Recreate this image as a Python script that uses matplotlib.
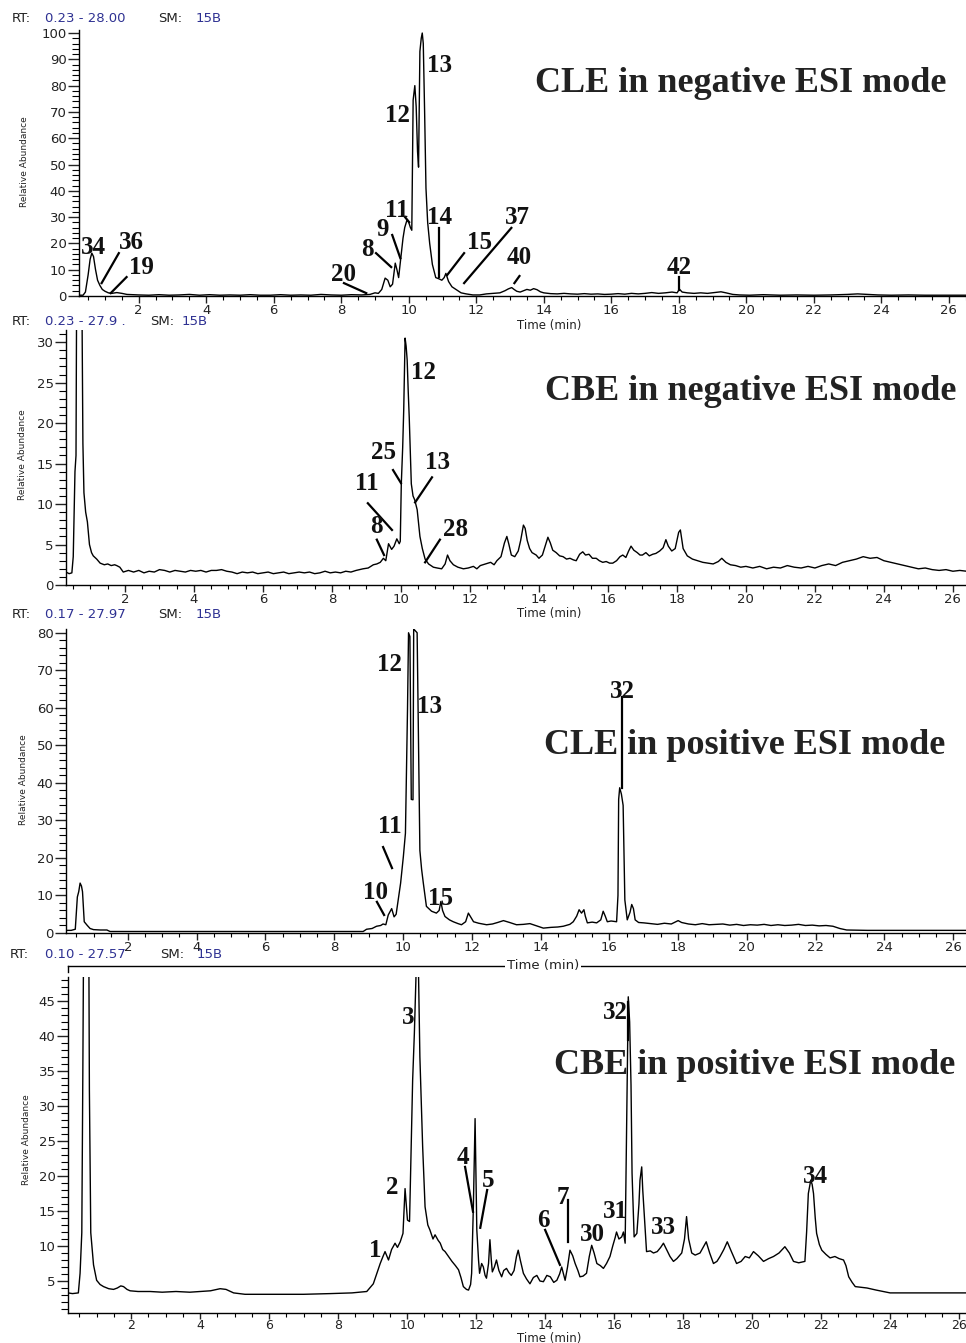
import matplotlib
matplotlib.use("Agg")
import matplotlib.pyplot as plt
from matplotlib.lines import Line2D
from matplotlib.ticker import MultipleLocator

W, H = 966, 1343
BLUE = "#2e3192"
SERIF = "Liberation Serif"

# ---- chromatogram traces (time in min, relative abundance) ----
cle_neg = [(0.23, 0.3), (0.35, 0.3), (0.42, 1.5), (0.50, 8), (0.56, 14), (0.61, 16.3), (0.66, 15),
           (0.72, 10), (0.78, 6), (0.85, 4), (0.92, 2.5), (1.00, 1.8), (1.10, 1.2), (1.20, 1.0),
           (1.35, 1.3), (1.50, 1.0), (1.65, 0.6), (1.80, 0.5), (2.0, 0.4), (2.3, 0.3), (2.6, 0.5),
           (2.9, 0.3), (3.2, 0.4), (3.5, 0.6), (3.8, 0.3), (4.1, 0.5), (4.4, 0.3), (4.7, 0.4),
           (5.0, 0.3), (5.3, 0.5), (5.6, 0.3), (5.9, 0.3), (6.2, 0.5), (6.5, 0.3), (6.8, 0.4),
           (7.1, 0.3), (7.4, 0.6), (7.7, 0.4), (8.0, 0.3), (8.3, 0.5), (8.6, 0.4), (8.85, 0.6),
           (9.0, 1.2), (9.1, 1.0), (9.2, 2.5), (9.3, 6.8), (9.38, 6), (9.45, 3.5), (9.52, 4.5),
           (9.6, 12.5), (9.65, 10), (9.7, 7), (9.77, 15), (9.83, 22), (9.88, 26), (9.95, 29),
           (10.0, 28), (10.05, 26), (10.09, 25), (10.13, 74.5), (10.18, 80), (10.22, 72),
           (10.26, 55), (10.29, 49), (10.33, 93), (10.37, 98), (10.40, 100), (10.43, 96),
           (10.47, 70), (10.51, 41), (10.56, 28), (10.62, 20), (10.7, 12), (10.8, 7), (10.9, 6.5),
           (10.98, 6), (11.05, 7), (11.1, 8.6), (11.18, 5.5), (11.28, 3.5), (11.4, 2.5),
           (11.55, 1.2), (11.7, 0.8), (11.9, 0.4), (12.1, 0.4), (12.3, 0.8), (12.5, 1.0),
           (12.7, 1.2), (12.85, 2.0), (12.95, 2.7), (13.05, 3.2), (13.12, 2.5), (13.2, 1.8),
           (13.3, 1.5), (13.4, 2.0), (13.5, 2.5), (13.6, 2.2), (13.7, 2.8), (13.8, 2.4),
           (13.9, 1.6), (14.0, 1.2), (14.2, 0.9), (14.4, 0.8), (14.6, 1.0), (14.8, 0.8),
           (15.0, 0.7), (15.2, 0.9), (15.4, 0.7), (15.6, 0.8), (15.8, 0.6), (16.0, 0.7),
           (16.2, 0.9), (16.4, 0.7), (16.6, 1.0), (16.8, 0.8), (17.0, 1.0), (17.2, 1.3),
           (17.4, 1.0), (17.6, 1.2), (17.8, 1.5), (17.95, 1.2), (18.02, 2.6), (18.1, 1.5),
           (18.25, 1.2), (18.45, 1.0), (18.65, 1.2), (18.85, 1.0), (19.05, 1.3), (19.25, 1.6),
           (19.4, 1.2), (19.6, 0.6), (19.8, 0.4), (20.1, 0.3), (20.5, 0.5), (21.0, 0.3),
           (21.5, 0.4), (22.0, 0.3), (22.5, 0.4), (23.0, 0.6), (23.3, 0.8), (23.6, 0.6),
           (23.9, 0.4), (24.3, 0.3), (24.8, 0.4), (25.3, 0.3), (25.8, 0.3), (26.3, 0.3), (26.6, 0.3)]

cbe_neg = [(0.29, 1.6), (0.38, 1.4), (0.46, 1.5), (0.50, 3.5), (0.55, 14), (0.58, 16), (0.62, 60),
           (0.72, 60), (0.76, 30), (0.78, 17.5), (0.81, 11.4), (0.86, 9), (0.91, 7.8), (0.97, 5),
           (1.03, 4), (1.08, 3.6), (1.18, 3.2), (1.28, 2.7), (1.4, 2.5), (1.5, 2.6), (1.6, 2.4),
           (1.7, 2.5), (1.76, 2.4), (1.85, 2.2), (1.95, 1.6), (2.1, 1.8), (2.25, 1.6), (2.4, 1.8),
           (2.55, 1.5), (2.7, 1.7), (2.85, 1.6), (3.0, 1.9), (3.15, 1.8), (3.3, 1.6), (3.45, 1.8),
           (3.6, 1.7), (3.75, 1.6), (3.9, 1.8), (4.05, 1.7), (4.2, 1.8), (4.35, 1.6), (4.5, 1.8),
           (4.65, 1.8), (4.8, 1.9), (4.95, 1.7), (5.1, 1.6), (5.25, 1.4), (5.4, 1.6), (5.55, 1.5),
           (5.7, 1.6), (5.85, 1.4), (6.0, 1.5), (6.15, 1.6), (6.3, 1.4), (6.45, 1.5), (6.6, 1.6),
           (6.75, 1.4), (6.9, 1.5), (7.05, 1.6), (7.2, 1.5), (7.35, 1.6), (7.5, 1.4), (7.65, 1.5),
           (7.8, 1.7), (7.95, 1.5), (8.1, 1.6), (8.25, 1.5), (8.4, 1.7), (8.55, 1.6), (8.7, 1.8),
           (8.9, 2.0), (9.05, 2.1), (9.2, 2.5), (9.3, 2.6), (9.4, 2.8), (9.49, 3.3), (9.56, 3.0),
           (9.64, 5.1), (9.73, 4.4), (9.8, 4.8), (9.88, 5.7), (9.95, 5.1), (9.98, 5.4),
           (10.01, 12.5), (10.05, 17), (10.08, 21.6), (10.12, 30.5), (10.15, 29.5), (10.18, 27.8),
           (10.21, 24), (10.24, 20.7), (10.3, 12.5), (10.35, 11), (10.4, 10.5), (10.47, 9.3),
           (10.55, 6), (10.62, 4.5), (10.7, 3.2), (10.8, 2.6), (10.94, 2.2), (11.05, 2.1),
           (11.18, 2.0), (11.28, 2.6), (11.35, 3.7), (11.42, 3.0), (11.52, 2.5), (11.65, 2.2),
           (11.81, 2.0), (11.95, 2.1), (12.1, 2.3), (12.2, 2.0), (12.3, 2.4), (12.45, 2.6),
           (12.6, 2.8), (12.7, 2.5), (12.78, 3.0), (12.9, 3.5), (13.0, 5.2), (13.07, 6.0),
           (13.13, 5), (13.2, 3.7), (13.3, 3.5), (13.4, 4.2), (13.47, 5.5), (13.55, 7.4),
           (13.6, 7), (13.66, 5.5), (13.73, 4.5), (13.8, 4.0), (13.92, 3.7), (14.0, 3.3),
           (14.1, 3.7), (14.18, 4.8), (14.26, 5.9), (14.33, 5.2), (14.4, 4.3), (14.5, 4.0),
           (14.6, 3.6), (14.7, 3.5), (14.8, 3.2), (14.9, 3.3), (15.0, 3.1), (15.08, 3.0),
           (15.18, 3.8), (15.27, 4.1), (15.35, 3.7), (15.45, 3.8), (15.55, 3.3), (15.66, 3.3),
           (15.75, 3.0), (15.85, 2.8), (15.95, 2.9), (16.05, 2.7), (16.14, 2.7), (16.25, 3.0),
           (16.35, 3.5), (16.43, 3.7), (16.52, 3.4), (16.6, 4.2), (16.67, 4.8), (16.75, 4.3),
           (16.85, 4.0), (16.93, 3.7), (17.0, 3.7), (17.1, 4.0), (17.2, 3.6), (17.3, 3.8),
           (17.39, 3.9), (17.5, 4.2), (17.6, 4.6), (17.68, 5.6), (17.75, 4.8), (17.85, 4.2),
           (17.95, 4.5), (18.05, 6.5), (18.1, 6.8), (18.18, 4.5), (18.3, 3.6), (18.45, 3.2),
           (18.6, 3.0), (18.75, 2.8), (18.9, 2.7), (19.05, 2.6), (19.2, 2.9), (19.3, 3.3),
           (19.42, 2.8), (19.55, 2.5), (19.7, 2.4), (19.85, 2.2), (20.0, 2.3), (20.2, 2.1),
           (20.4, 2.3), (20.6, 2.0), (20.8, 2.2), (21.0, 2.1), (21.2, 2.4), (21.4, 2.2),
           (21.6, 2.1), (21.8, 2.3), (22.0, 2.1), (22.2, 2.4), (22.4, 2.6), (22.6, 2.4),
           (22.8, 2.8), (23.0, 3.0), (23.2, 3.2), (23.4, 3.5), (23.6, 3.3), (23.8, 3.4),
           (24.0, 3.0), (24.2, 2.8), (24.4, 2.6), (24.6, 2.4), (24.8, 2.2), (25.0, 2.0),
           (25.2, 2.1), (25.4, 1.9), (25.6, 1.8), (25.8, 1.9), (26.0, 1.7), (26.2, 1.8), (26.4, 1.7)]

cle_pos = [(0.2, 0.7), (0.35, 0.7), (0.47, 1.0), (0.53, 9.6), (0.57, 11), (0.61, 13.3), (0.65, 12.5),
           (0.68, 11), (0.73, 3), (0.82, 2), (0.9, 1.2), (1.0, 0.9), (1.2, 0.8), (1.39, 0.8),
           (1.48, 0.4), (2, 0.4), (3, 0.4), (4, 0.4), (5, 0.4), (6, 0.4), (7, 0.4), (8, 0.4),
           (8.84, 0.4), (8.94, 1.0), (9.1, 1.2), (9.23, 1.8), (9.35, 2.0), (9.42, 2.4), (9.5, 2.2),
           (9.57, 4.8), (9.67, 6.5), (9.74, 4.3), (9.8, 5.0), (9.86, 8.8), (9.93, 13.3),
           (10.01, 20.4), (10.07, 26.6), (10.13, 59.5), (10.16, 80), (10.2, 79), (10.24, 35.6),
           (10.29, 35.5), (10.31, 81), (10.41, 80), (10.45, 51.5), (10.49, 22), (10.54, 17),
           (10.59, 13.3), (10.68, 7.1), (10.83, 5.8), (10.97, 5.3), (11.05, 6.0), (11.1, 8.4),
           (11.15, 6), (11.22, 4.4), (11.35, 3.5), (11.46, 3.0), (11.6, 2.5), (11.7, 2.2),
           (11.82, 3.0), (11.9, 5.3), (11.97, 4.2), (12.05, 3.0), (12.2, 2.6), (12.43, 2.2),
           (12.6, 2.4), (12.75, 2.8), (12.92, 3.3), (13.1, 2.8), (13.3, 2.2), (13.5, 2.3),
           (13.69, 2.5), (13.85, 2.0), (14.08, 1.3), (14.3, 1.5), (14.5, 1.6), (14.66, 1.8),
           (14.85, 2.3), (14.95, 3.0), (15.05, 4.5), (15.12, 6.2), (15.19, 5.3), (15.26, 6.2),
           (15.3, 4.5), (15.36, 2.7), (15.5, 2.9), (15.63, 2.7), (15.75, 3.5), (15.82, 5.8),
           (15.88, 4.5), (15.94, 3.0), (16.05, 3.2), (16.21, 3.0), (16.25, 10), (16.27, 35.6),
           (16.3, 38.7), (16.35, 37), (16.4, 34), (16.45, 8.8), (16.52, 3.5), (16.6, 5.5),
           (16.65, 7.6), (16.7, 6.5), (16.75, 3.5), (16.85, 2.8), (17.0, 2.7), (17.2, 2.5),
           (17.4, 2.3), (17.6, 2.6), (17.8, 2.4), (18.0, 3.3), (18.1, 2.8), (18.3, 2.4),
           (18.5, 2.2), (18.7, 2.5), (18.9, 2.2), (19.1, 2.3), (19.3, 2.4), (19.5, 2.1),
           (19.7, 2.3), (19.9, 2.0), (20.1, 2.2), (20.3, 2.1), (20.5, 2.3), (20.7, 2.0),
           (20.9, 2.2), (21.1, 2.0), (21.3, 2.1), (21.5, 2.3), (21.7, 2.0), (21.9, 2.1),
           (22.1, 1.9), (22.3, 2.0), (22.5, 1.8), (22.7, 1.2), (22.9, 0.8), (23.5, 0.7),
           (24.5, 0.7), (25.5, 0.7), (26.4, 0.7)]

cbe_pos = [(0.17, 3.3), (0.3, 3.2), (0.47, 3.3), (0.52, 6.1), (0.57, 11.9), (0.6, 34.7), (0.64, 70),
           (0.76, 70), (0.79, 32.3), (0.83, 11.9), (0.91, 7.3), (1.0, 5.1), (1.1, 4.5), (1.2, 4.2),
           (1.35, 3.9), (1.49, 3.8), (1.6, 4.0), (1.7, 4.3), (1.78, 4.2), (1.88, 3.8), (1.97, 3.6),
           (2.2, 3.5), (2.55, 3.5), (2.9, 3.4), (3.3, 3.5), (3.7, 3.4), (4.0, 3.5), (4.3, 3.6),
           (4.58, 3.9), (4.75, 3.8), (4.97, 3.3), (5.3, 3.1), (6, 3.1), (7, 3.1), (7.77, 3.2),
           (8.4, 3.3), (8.83, 3.5), (9.02, 4.6), (9.15, 6.5), (9.22, 7.5), (9.3, 8.5), (9.36, 9.2),
           (9.46, 8.0), (9.55, 9.5), (9.65, 10.4), (9.72, 9.8), (9.8, 10.6), (9.88, 11.8),
           (9.94, 18.2), (10.01, 13.7), (10.07, 13.5), (10.12, 25.1), (10.16, 33.7), (10.21, 40.4),
           (10.26, 49), (10.33, 49), (10.37, 37), (10.45, 24.2), (10.52, 15.6), (10.6, 13),
           (10.66, 12.3), (10.75, 11.0), (10.81, 11.6), (10.9, 10.8), (10.96, 10.4), (11.03, 9.5),
           (11.1, 9.2), (11.2, 8.5), (11.3, 7.8), (11.4, 7.2), (11.49, 6.6), (11.56, 5.5),
           (11.63, 4.2), (11.72, 3.8), (11.78, 3.7), (11.84, 4.5), (11.87, 6.1), (11.92, 15.6),
           (11.97, 28.2), (12.02, 12.3), (12.07, 8), (12.1, 6.1), (12.16, 7.5), (12.21, 7.0),
           (12.26, 5.8), (12.3, 5.4), (12.36, 7.5), (12.4, 10.9), (12.44, 8), (12.47, 6.3),
           (12.53, 7.0), (12.59, 8.0), (12.66, 6.5), (12.74, 5.6), (12.8, 6.5), (12.88, 6.8),
           (12.95, 6.2), (13.02, 5.8), (13.1, 6.5), (13.17, 8.5), (13.22, 9.4), (13.28, 8.0),
           (13.37, 6.1), (13.46, 5.3), (13.56, 4.6), (13.66, 5.5), (13.76, 5.8), (13.85, 5.0),
           (13.95, 4.9), (14.05, 5.8), (14.15, 5.6), (14.25, 4.8), (14.34, 5.1), (14.42, 6),
           (14.48, 7.0), (14.58, 5.1), (14.65, 7), (14.72, 9.4), (14.8, 8.6), (14.87, 7.5),
           (14.95, 6.5), (15.01, 5.6), (15.1, 5.7), (15.2, 6.1), (15.28, 8.5), (15.35, 10.1),
           (15.42, 9), (15.5, 7.5), (15.6, 7.2), (15.69, 6.8), (15.78, 7.5), (15.88, 8.5),
           (15.96, 10), (16.03, 11.2), (16.07, 12), (16.14, 11), (16.22, 11.3), (16.27, 12),
           (16.32, 10.4), (16.37, 29.9), (16.41, 45.6), (16.45, 42), (16.49, 33), (16.52, 20.4),
           (16.58, 11.3), (16.66, 11.8), (16.72, 16), (16.75, 19.4), (16.8, 21.3), (16.83, 18),
           (16.86, 15.6), (16.94, 9.2), (17.05, 9.3), (17.14, 9.0), (17.25, 9.2), (17.35, 9.8),
           (17.43, 10.4), (17.52, 9.5), (17.62, 8.5), (17.72, 7.8), (17.82, 8.2), (17.96, 9.0),
           (18.04, 11), (18.1, 14.2), (18.16, 11), (18.25, 9.0), (18.35, 8.7), (18.49, 9.0),
           (18.58, 9.8), (18.67, 10.6), (18.77, 9), (18.88, 7.5), (18.98, 7.8), (19.07, 8.5),
           (19.18, 9.5), (19.28, 10.6), (19.4, 9.2), (19.55, 7.5), (19.68, 7.8), (19.8, 8.5),
           (19.92, 8.3), (20.04, 9.2), (20.18, 8.6), (20.33, 7.8), (20.48, 8.2), (20.62, 8.5),
           (20.78, 9.0), (20.95, 9.9), (21.08, 9.0), (21.2, 7.8), (21.35, 7.6), (21.53, 7.8),
           (21.58, 12), (21.63, 17.5), (21.7, 19.4), (21.74, 18.8), (21.78, 17.5), (21.83, 14),
           (21.87, 11.8), (21.95, 10.2), (22.02, 9.4), (22.14, 8.8), (22.26, 8.3), (22.4, 8.5),
           (22.52, 8.2), (22.65, 8.0), (22.72, 7.2), (22.8, 5.6), (22.9, 4.8), (22.99, 4.2),
           (23.15, 4.1), (23.33, 4.0), (23.6, 3.7), (24.0, 3.3), (24.5, 3.3), (25, 3.3),
           (25.5, 3.3), (26.2, 3.3)]

titles = ["CLE in negative ESI mode", "CBE in negative ESI mode",
          "CLE in positive ESI mode", "CBE in positive ESI mode"]
headers = [("0.23 - 28.00", "15B"), ("0.23 - 27.9 .", "15B"),
           ("0.17 - 27.97", "15B"), ("0.10 - 27.57", "15B")]

# peak labels: (text, x, y, line or None)
labels1 = [("34", 0.66, 18.6, None), ("36", 1.79, 20.2, (1.41, 16.3, 0.90, 4.9)),
           ("19", 2.09, 11.0, (1.64, 7.2, 1.17, 1.1)), ("20", 8.08, 8.0, (8.08, 4.9, 8.74, 1.1)),
           ("8", 8.77, 17.5, (9.03, 16.3, 9.48, 11.0)), ("9", 9.21, 25.1, (9.51, 23.2, 9.75, 14.4)),
           ("11", 9.66, 32.7, (9.89, 30.0, 10.01, 28.1)), ("12", 9.66, 68.8, None),
           ("13", 10.9, 87.8, None), ("14", 10.9, 30.0, (10.9, 25.9, 10.9, 7.2)),
           ("15", 12.09, 20.2, (11.64, 16.3, 11.14, 8.0)), ("37", 13.22, 29.7, (13.04, 25.9, 11.64, 4.9)),
           ("40", 13.28, 14.8, (13.28, 7.6, 13.13, 4.9)), ("42", 18.02, 11.0, (18.02, 7.2, 18.02, 2.3))]
labels2 = [("12", 10.64, 26.3, None), ("25", 9.48, 16.4, (9.77, 14.2, 10.0, 12.6)),
           ("13", 11.07, 15.1, (10.9, 13.3, 10.41, 10.2)), ("11", 9.01, 12.6, (9.04, 10.1, 9.74, 6.8)),
           ("8", 9.3, 7.2, (9.3, 5.6, 9.51, 3.7)), ("28", 11.57, 6.8, (11.13, 5.6, 10.7, 2.8))]
labels3 = [("12", 9.62, 71.5, None), ("13", 10.78, 60.3, None),
           ("32", 16.37, 64.3, (16.37, 62.9, 16.37, 38.7)), ("11", 9.62, 28.3, (9.42, 22.9, 9.68, 17.3)),
           ("10", 9.19, 10.9, (9.24, 8.3, 9.45, 4.8)), ("15", 11.08, 9.3, None)]
labels4 = [("3", 10.03, 42.6, None), ("2", 9.57, 18.4, None), ("1", 9.07, 9.4, None),
           ("4", 11.62, 22.7, (11.68, 21.3, 11.91, 14.9)), ("5", 12.35, 19.4, (12.32, 18.0, 12.12, 12.6)),
           ("6", 13.94, 13.7, (14.0, 12.3, 14.43, 7.3)), ("7", 14.52, 16.9, (14.67, 16.6, 14.67, 10.6)),
           ("30", 15.36, 11.6, None), ("31", 16.03, 14.9, None),
           ("32", 16.03, 43.4, (16.41, 44.9, 16.41, 39.4)), ("33", 17.42, 12.7, None),
           ("34", 21.83, 19.9, None)]

# ---- layout (pixels) ----
panels = [
    dict(data=cle_neg, labels=labels1, px=(79, 296, 30.4), xlim=(0.23, 26.51), ylim=(0, 101),
         ymaj=10, ymin=2, header=(18, 12, 45, 158, 196), title_xy=(741, 83), ylab_xy=(25, 162),
         xlab_y=325),
    dict(data=cbe_neg, labels=labels2, px=(66, 585, 330), xlim=(0.29, 26.38), ylim=(0, 31.5),
         ymaj=5, ymin=1, header=(322, 12, 45, 150, 182), title_xy=(751, 391), ylab_xy=(23, 455),
         xlab_y=613),
    dict(data=cle_pos, labels=labels3, px=(66, 933, 629), xlim=(0.2, 26.37), ylim=(0, 81),
         ymaj=10, ymin=2, header=(614, 12, 45, 158, 196), title_xy=(745, 745), ylab_xy=(24, 780),
         xlab_y=None),
    dict(data=cbe_pos, labels=labels4, px=(68, 1312.5, 976.5), xlim=(0.17, 26.2), ylim=(0.5, 48.5),
         ymaj=5, ymin=1, header=(955, 10, 45, 160, 197), title_xy=(755, 1065), ylab_xy=(27, 1140),
         xlab_y=1338.5),
]

fig = plt.figure(figsize=(W / 100, H / 100), dpi=100)

for i, p in enumerate(panels):
    left, bot, top = p["px"]
    ax = fig.add_axes([left / W, 1 - bot / H, (W - left) / W, (bot - top) / H])
    t = [d[0] for d in p["data"]]
    v = [d[1] for d in p["data"]]
    ax.plot(t, v, color="black", lw=1.0)
    ax.set_xlim(*p["xlim"])
    ax.set_ylim(*p["ylim"])
    for s in ["top", "right"]:
        ax.spines[s].set_visible(False)
    for s in ["left", "bottom"]:
        ax.spines[s].set_linewidth(1.0)
    ax.xaxis.set_major_locator(MultipleLocator(2))
    ax.xaxis.set_minor_locator(MultipleLocator(0.5))
    ax.yaxis.set_major_locator(MultipleLocator(p["ymaj"]))
    ax.yaxis.set_minor_locator(MultipleLocator(p["ymin"]))
    ax.tick_params(axis="y", which="major", length=8, width=1, pad=1, labelsize=9.5, colors="#222")
    ax.tick_params(axis="y", which="minor", length=5, width=0.8)
    ax.tick_params(axis="x", which="major", length=5, width=1, pad=1, labelsize=9.5, colors="#222")
    ax.tick_params(axis="x", which="minor", length=3, width=0.8)
    if i == 3:
        ax.tick_params(axis="x", which="major", length=4, pad=0.5, labelsize=9)

    for txt, lx, ly, ln in p["labels"]:
        ax.text(lx, ly, txt, family=SERIF, weight="bold", fontsize=18, color="#111",
                ha="center", va="center")
        if ln is not None:
            ax.plot([ln[0], ln[2]], [ln[1], ln[3]], color="black", lw=1.6, clip_on=False)

    tx, ty = p["title_xy"]
    fig.text(tx / W, 1 - ty / H, titles[i], family=SERIF, weight="bold", fontsize=26,
             color="#222", ha="center", va="center")

    hy_px, x_rt, x_rng, x_sm, x_val = p["header"]
    hy = 1 - hy_px / H
    rng, sm = headers[i]
    fig.text(x_rt / W, hy, "RT:", fontsize=9.5, color="#222", va="center")
    fig.text(x_rng / W, hy, rng, fontsize=9.5, color=BLUE, va="center")
    fig.text(x_sm / W, hy, "SM:", fontsize=9.5, color="#222", va="center")
    fig.text(x_val / W, hy, sm, fontsize=9.5, color=BLUE, va="center")

    yx, yy = p["ylab_xy"]
    fig.text(yx / W, 1 - yy / H, "Relative Abundance", fontsize=6.5, rotation=90,
             ha="center", va="center", color="#222")
    if p["xlab_y"] is not None:
        fig.text(549 / W, 1 - p["xlab_y"] / H, "Time (min)", fontsize=8.5, color="#222",
                 ha="center", va="center")

# top frame line of the last panel, carrying the third panel's axis title
fig.add_artist(Line2D([68 / W, 1.0], [1 - 966 / H, 1 - 966 / H], color="black", lw=1.0))
fig.add_artist(Line2D([68 / W, 68 / W], [1 - 966 / H, 1 - 972 / H], color="black", lw=1.0))
fig.text(543 / W, 1 - 966 / H, "Time (min)", fontsize=9.5, color="#222", ha="center", va="center",
         bbox=dict(facecolor="white", edgecolor="none", pad=1))

fig.savefig("out.png", dpi=100)
